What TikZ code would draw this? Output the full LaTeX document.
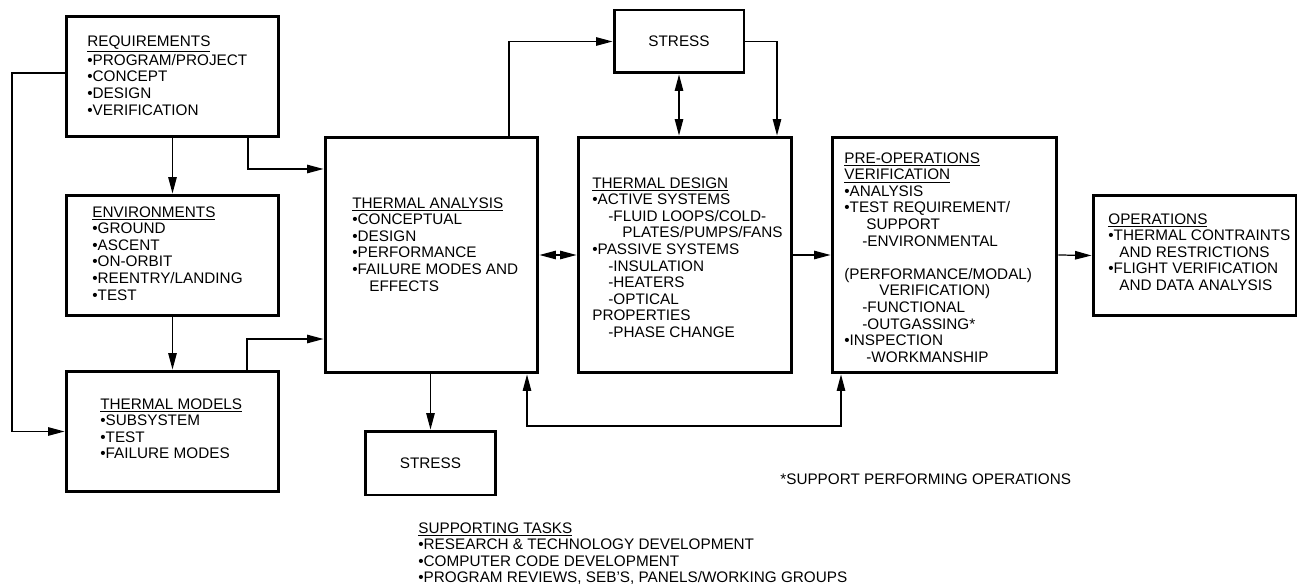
\documentclass[tikz,border=0pt]{standalone}
\usepackage{fontspec}
\setmainfont{Liberation Sans}
\usepackage{tikz}
\usetikzlibrary{arrows.meta, positioning, calc}

\begin{document}
\begin{tikzpicture}[x=0.02cm, y=-0.02cm,
    blk/.style={draw, line width=1.7pt, inner sep=0pt},
    txt/.style={inner sep=0pt, anchor=north west, align=left,
        font=\fontsize{8.7}{9.45}\selectfont},
    arr/.style={-{Triangle[length=0.33cm, width=0.17cm]}, line width=0.7pt},
    darr/.style={{Triangle[length=0.33cm, width=0.17cm]}-{Triangle[length=0.33cm, width=0.17cm]}, line width=0.7pt}]
    \useasboundingbox (0,0) rectangle (1298,584);

    % boxes
    \node[blk, minimum width=4.26cm, minimum height=2.42cm] (req) at (172.5,76.5) {};
    \node[blk, minimum width=4.26cm, minimum height=2.42cm] (env) at (172.5,255.5) {};
    \node[blk, minimum width=4.26cm, minimum height=2.42cm] (tmod) at (172.5,431.5) {};
    \node[blk, minimum width=4.26cm, minimum height=4.72cm] (tana) at (431.5,255) {};
    \node[blk, minimum width=4.28cm, minimum height=4.72cm] (tdes) at (685,255) {};
    \node[blk, minimum width=4.50cm, minimum height=4.72cm] (preop) at (944.5,255) {};
    \node[blk, minimum width=4.06cm, minimum height=2.42cm] (ops) at (1194.5,255.5) {};
    \node[blk, minimum width=2.60cm, minimum height=1.26cm, font=\fontsize{8.7}{9.45}\selectfont] (stressA) at (679,41.5) {STRESS};
    \node[blk, minimum width=2.62cm, minimum height=1.28cm, font=\fontsize{8.7}{9.45}\selectfont] (stressB) at (430.5,463) {STRESS};

    % box texts
    \node[txt] (reqT) at (87,35) {\underline{REQUIREMENTS}\\•PROGRAM/PROJECT\\•CONCEPT\\•DESIGN\\•VERIFICATION};
    \node[txt] (envT) at (92,206) {\underline{ENVIRONMENTS}\\•GROUND\\•ASCENT\\•ON-ORBIT\\•REENTRY/LANDING\\•TEST};
    \node[txt] (tmodT) at (100,398) {\underline{THERMAL MODELS}\\•SUBSYSTEM\\•TEST\\•FAILURE MODES};
    \node[txt] (tanaT) at (352,197) {\underline{THERMAL ANALYSIS}\\•CONCEPTUAL\\•DESIGN\\•PERFORMANCE\\•FAILURE MODES AND\\\hspace*{0.34cm}EFFECTS};
    \node[txt] (tdesT) at (592,177) {\underline{THERMAL DESIGN}\\•ACTIVE SYSTEMS\\\hspace*{0.32cm}-FLUID LOOPS/COLD-\\\hspace*{0.6cm}PLATES/PUMPS/FANS\\•PASSIVE SYSTEMS\\\hspace*{0.32cm}-INSULATION\\\hspace*{0.32cm}-HEATERS\\\hspace*{0.32cm}-OPTICAL\\PROPERTIES\\\hspace*{0.32cm}-PHASE CHANGE};
    \node[txt] (preopT) at (844,152) {\underline{PRE-OPERATIONS}\\\underline{VERIFICATION}\\•ANALYSIS\\•TEST REQUIREMENT/\\\hspace*{0.44cm}SUPPORT\\\hspace*{0.36cm}-ENVIRONMENTAL\\\mbox{}\\(PERFORMANCE/MODAL)\\\hspace*{0.7cm}VERIFICATION)\\\hspace*{0.36cm}-FUNCTIONAL\\\hspace*{0.36cm}-OUTGASSING*\\•INSPECTION\\\hspace*{0.44cm}-WORKMANSHIP};
    \node[txt] (opsT) at (1108,213) {\underline{OPERATIONS}\\•THERMAL CONTRAINTS\\\hspace*{0.22cm}AND RESTRICTIONS\\•FLIGHT VERIFICATION\\\hspace*{0.22cm}AND DATA ANALYSIS};

    % free texts
    \node[txt] (note) at (780,473) {*SUPPORT PERFORMING OPERATIONS};
    \node[txt] (tasks) at (418,522) {\underline{SUPPORTING TASKS}\\•RESEARCH \& TECHNOLOGY DEVELOPMENT\\•COMPUTER CODE DEVELOPMENT\\•PROGRAM REVIEWS, SEB'S, PANELS/WORKING GROUPS};

    % bend points
    \coordinate (bReq) at (248,169);
    \coordinate (bLeft) at (12,73);
    \coordinate (bTm) at (247,339);
    \coordinate (bTa) at (509,0);
    \coordinate (bSt) at (777,0);
    \coordinate (bLoop) at (527,426);
    \coordinate (bPre) at (841,0);

    % connectors
    \draw[arr] (req) -- (env);
    \draw[arr] (env) -- (tmod);
    \draw[arr] (req.south -| bReq) |- (tana.west |- bReq);
    \draw[arr] (req.west |- bLeft) -- (bLeft) |- (tmod.west);
    \draw[arr] (tmod.north -| bTm) |- (tana.west |- bTm);
    \draw[arr] (tana.north -| bTa) |- (stressA.west);
    \draw[arr] (stressA.east) -| (tdes.north -| bSt);
    \draw[darr] (stressA.south) -- (stressA.south |- tdes.north);
    \draw[darr] (tana.east) -- (tdes.west);
    \draw[arr] (tdes.east) -- (preop.west);
    \draw[arr] (preop.east) -- (ops.west);
    \draw[arr] (stressB.north |- tana.south) -- (stressB.north);
    \draw[darr] (tana.south -| bLoop) -- (bLoop) -| (preop.south -| bPre);
\end{tikzpicture}
\end{document}
